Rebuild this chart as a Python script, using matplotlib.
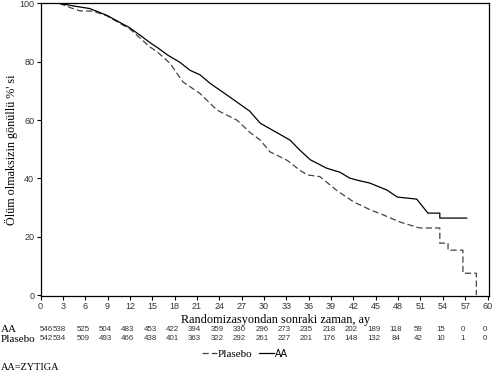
import matplotlib
matplotlib.use('Agg')
import matplotlib.pyplot as plt
import matplotlib.transforms as mtransforms

# Kaplan-Meier curves (months, % alive)
aa_t = [0, 2.5, 4.4, 6.6, 8.9, 11.1, 11.8, 13.4, 14.7, 15.6, 17.1, 18.7, 20.1, 21.4,
        22.8, 25.4, 28.1, 29.5, 32.2, 33.5, 34.8, 36.2, 38.4, 40.2, 41.5, 42.5,
        44.2, 46.5, 47.9, 50.5, 52.0, 53.6, 53.6, 57.2]
aa_s = [100, 100, 99.1, 98.2, 95.9, 92.8, 91.9, 89.0, 86.5, 85.0, 82.2, 79.8, 77.0, 75.5,
        72.5, 67.9, 63.0, 58.9, 55.0, 53.1, 49.7, 46.4, 43.5, 42.1, 40.1, 39.4,
        38.4, 36.0, 33.6, 32.9, 28.1, 28.1, 26.4, 26.4]

pl_t = [0, 2.5, 4.0, 5.3, 7.1, 8.9, 11.1, 12.0, 13.4, 14.7, 15.6, 17.4, 19.1, 21.4,
        23.7, 26.4, 28.1, 29.5, 30.8, 33.1, 34.8, 35.8, 37.5, 39.8, 42.0, 44.2,
        46.0, 48.3, 50.9, 52.7, 53.6, 53.6, 54.7, 54.7, 56.7, 56.7, 58.5, 58.5]
pl_s = [100, 100, 98.5, 97.4, 97.3, 95.7, 92.5, 91.2, 88.0, 85.0, 83.5, 79.4, 73.1, 69.1,
        63.4, 59.9, 55.8, 53.1, 49.1, 46.2, 42.8, 41.2, 40.6, 35.8, 32.0, 29.3,
        27.5, 25.0, 23.0, 23.0, 23.0, 17.8, 17.8, 15.4, 15.4, 7.5, 7.5, 0]

risk_times = list(range(0, 61, 3))
aa_risk = [546, 538, 525, 504, 483, 453, 422, 394, 359, 330, 296, 273, 235, 218,
           202, 189, 118, 59, 15, 0, 0]
pl_risk = [542, 534, 509, 493, 466, 438, 401, 363, 322, 292, 261, 227, 201, 176,
           148, 132, 84, 42, 10, 1, 0]

W, H = 493, 371
serif = 'Liberation Serif'
sans = 'Liberation Sans'

fig = plt.figure(figsize=(W / 100, H / 100), dpi=100)
ax = fig.add_axes([40.5 / W, 1 - 296 / H, (489 - 40.5) / W, (296 - 3) / H])

ax.plot(pl_t, pl_s, color='#444444', lw=0.9, linestyle=(0, (5, 2.5)), label='Plasebo')
ax.plot(aa_t, aa_s, color='black', lw=0.9, label='AA')

ax.set_xlim(0, 60.2)
ax.set_ylim(-0.3, 100.1)
ax.set_xticks(risk_times)
ax.set_yticks([0, 20, 40, 60, 80, 100])
ax.tick_params(direction='out', length=3, width=0.8, labelsize=6.5,
               labelcolor='#333333', pad=1.5)
for lab in ax.get_xticklabels() + ax.get_yticklabels():
    lab.set_fontfamily(sans)
for sp in ax.spines.values():
    sp.set_linewidth(0.9)

ax.set_ylabel("Ölüm olmaksizin gönüllü %' si", fontfamily=serif, fontsize=8.7, labelpad=1)

def fy(py):
    return 1 - py / H

fig.text(276 / W, fy(320), 'Randomizasyondan sonraki zaman, ay', ha='center', va='center',
         fontfamily=serif, fontsize=8.8)

# numbers at risk
trans = mtransforms.blended_transform_factory(ax.transData, fig.transFigure)
fig.text(1 / W, fy(330), 'AA', ha='left', va='center', fontfamily=serif, fontsize=8)
fig.text(1 / W, fy(339), 'Plasebo', ha='left', va='center', fontfamily=serif, fontsize=8)
for i, t in enumerate(risk_times):
    if i == 0:
        x, ha = -0.1, 'left'
    elif i == 1:
        x, ha = 3.45, 'right'
    else:
        x, ha = t - 0.3, 'center'
    ax.text(x, fy(329.5), str(aa_risk[i]), transform=trans, ha=ha, va='center',
            fontfamily=sans, fontsize=5.7, color='#333333')
    ax.text(x, fy(338), str(pl_risk[i]), transform=trans, ha=ha, va='center',
            fontfamily=sans, fontsize=5.7, color='#333333')

# legend below the table
leg = fig.legend(loc='center', bbox_to_anchor=(245 / W, fy(354)), ncol=2, frameon=False,
                 handlelength=1.3, handletextpad=0.1, columnspacing=0.6,
                 prop={'family': serif, 'size': 8})
leg.get_texts()[1].set_fontfamily(sans)
leg.get_texts()[1].set_fontsize(7)

fig.text(1 / W, fy(368), 'AA=ZYTIGA', ha='left', va='center', fontfamily=serif, fontsize=7.4)

fig.savefig('out.png', dpi=100)
